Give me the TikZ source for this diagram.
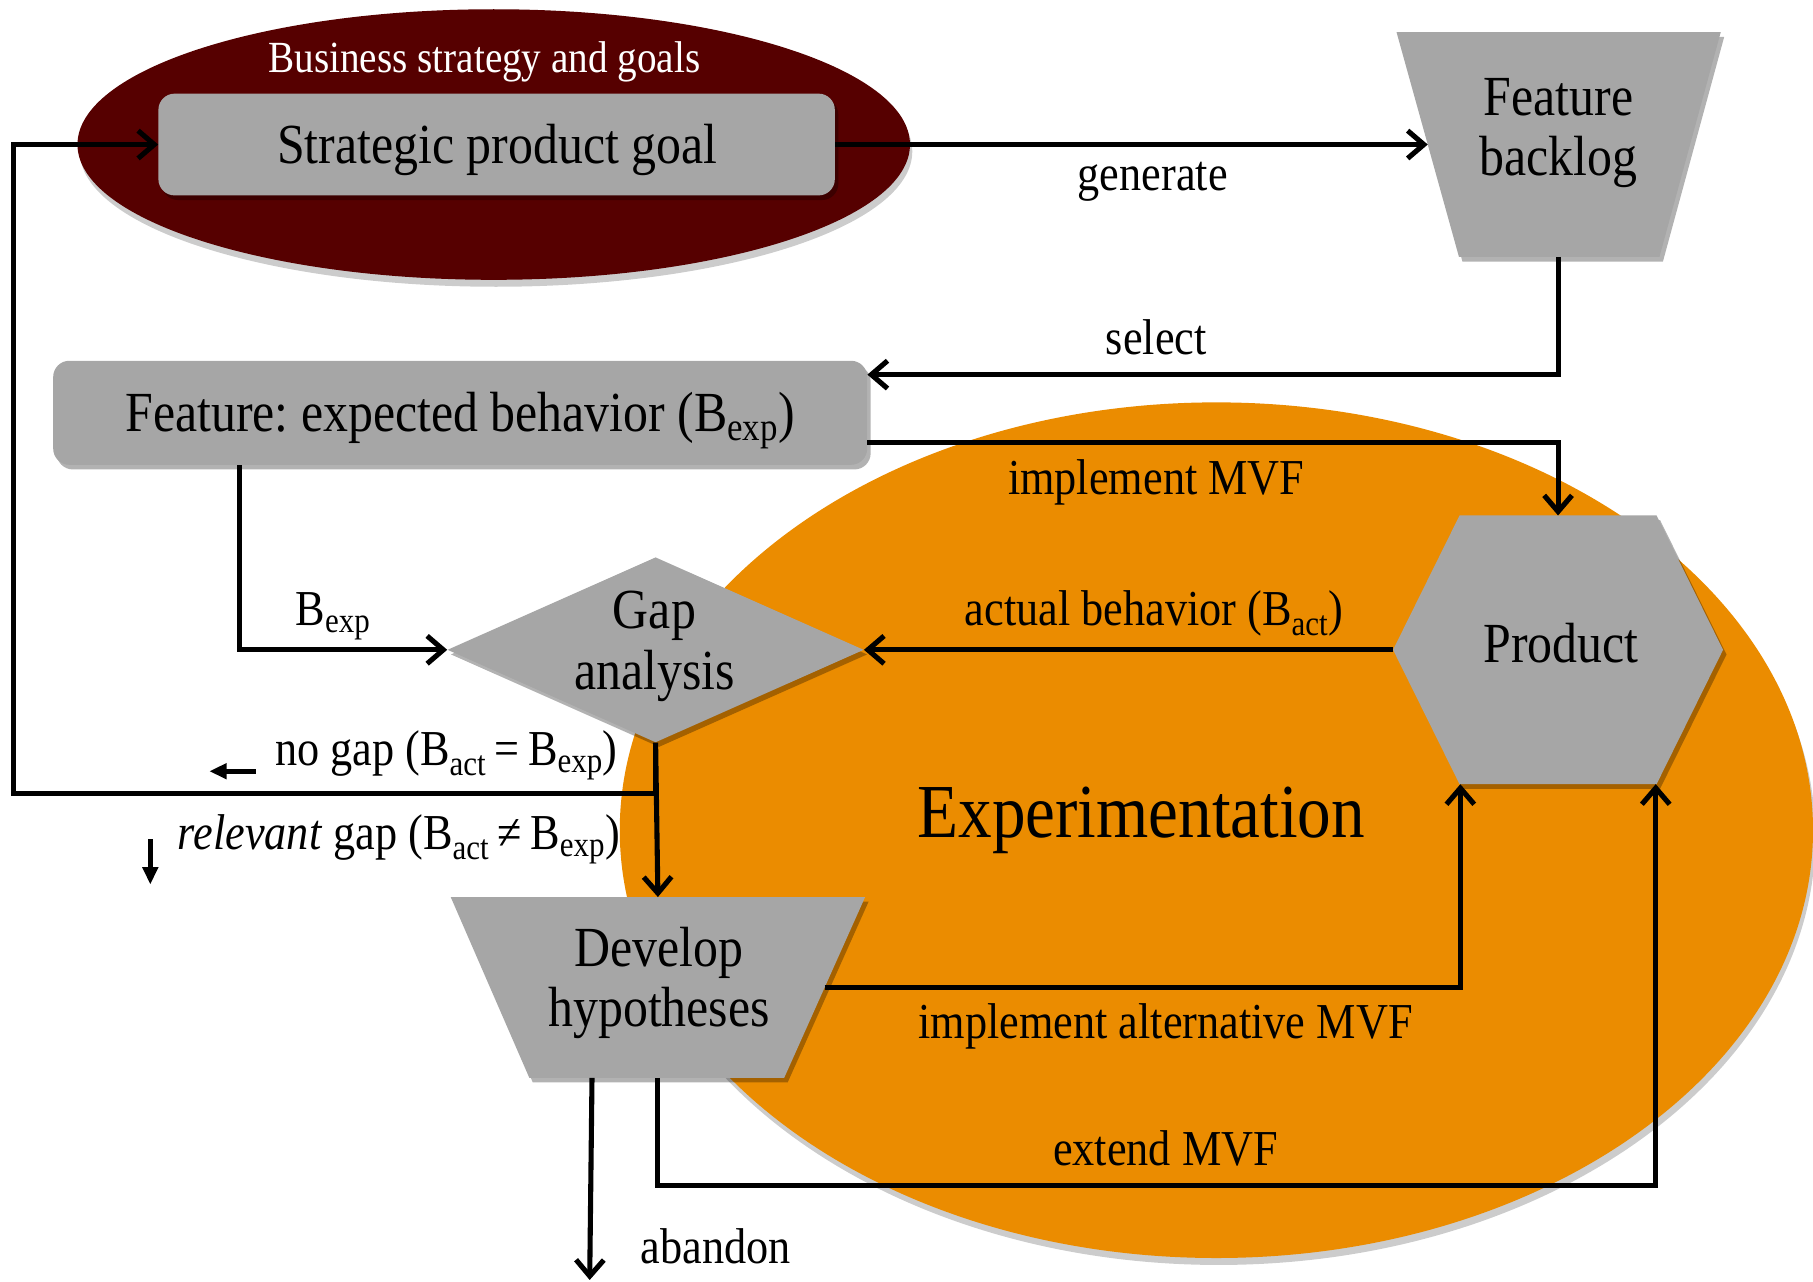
\documentclass[tikz,border=0pt]{standalone}
\usepackage{fontspec}
\setmainfont{Liberation Serif}[FakeStretch=0.88]
\usetikzlibrary{shapes.geometric,arrows.meta,shadows,calc}
\definecolor{bsgred}{RGB}{86,0,0}
\definecolor{boxgray}{RGB}{166,166,166}
\definecolor{orng}{RGB}{235,140,0}
\frenchspacing
\begin{document}
\begin{tikzpicture}[x=1pt,y=-1pt,
  lbl/.style={font=\fontsize{43.5}{48}\selectfont, inner sep=0pt, anchor=base},
  nodetxt/.style={font=\fontsize{49}{52.5}\selectfont, align=center, inner sep=0pt},
  shd/.style={drop shadow={shadow xshift=3pt,shadow yshift=-4pt,opacity=0.3,fill=black}},
  gbox/.style={fill=boxgray, draw=none, rounded corners=14pt, inner sep=0pt, shd},
  gshape/.style={fill=boxgray, draw=none, inner sep=0pt, shd},
  frame/.style={draw=none, inner sep=0pt},
  arr/.style={line width=4.4pt, -{Straight Barb[length=14pt,width=24pt]}},
  smallarr/.style={line width=4pt, -{Triangle[length=15pt,width=13pt]}}
]
\useasboundingbox (0,0) rectangle (1568,1108);

% background ellipses
\node[ellipse, fill=orng, minimum width=1032pt, minimum height=740pt, inner sep=0pt,
  drop shadow={shadow xshift=2pt,shadow yshift=-6pt,opacity=0.2,fill=black}] (expell) at (1052,718) {};
\node[font=\fontsize{66}{70}\selectfont, inner sep=0pt, anchor=base] (explbl) at (987,724) {Experimentation};

\node[ellipse, fill=bsgred, minimum width=720pt, minimum height=234pt, inner sep=0pt,
  drop shadow={shadow xshift=2pt,shadow yshift=-6pt,opacity=0.2,fill=black}] (bsg) at (427,125) {};
\node[font=\fontsize{38.5}{42}\selectfont, text=white, inner sep=0pt, anchor=base] (bsglbl) at (419,63) {Business strategy and goals};

% boxes
\node[gbox, minimum width=585pt, minimum height=88pt] (spg) at (429.5,125) {};
\node[nodetxt, anchor=base] (spglbl) at (430,141) {Strategic product goal};

\node[gbox, minimum width=704pt, minimum height=90pt] (feat) at (398,357) {};
\node[nodetxt, anchor=base] (featlbl) at (398,373) {Feature: expected behavior (B\textsubscript{exp})};

% feature backlog (inverted trapezoid)
\node[frame, minimum width=280pt, minimum height=194pt] (backlog) at (1348,125) {};
\fill[boxgray, shd] (backlog.north west) -- (backlog.north east)
  -- ($(backlog.south east)+(-53,0)$) -- ($(backlog.south west)+(54,0)$) -- cycle;
\node[nodetxt] (backloglbl) at (1348,115) {Feature\\backlog};

% gap analysis
\node[gshape, diamond, minimum width=360pt, minimum height=160pt] (gap) at (567,562) {};
\node[nodetxt] (gaplbl) at (566,559) {Gap\\analysis};

% develop hypotheses (inverted trapezoid)
\node[frame, minimum width=358pt, minimum height=156pt] (dev) at (569,854) {};
\fill[boxgray, shd] (dev.north west) -- (dev.north east)
  -- ($(dev.south east)+(-70,0)$) -- ($(dev.south west)+(68,0)$) -- cycle;
\node[nodetxt] (devlbl) at (570,850) {Develop\\hypotheses};

% product (hexagon)
\node[frame, minimum width=285pt, minimum height=232pt] (prod) at (1347.5,562) {};
\fill[boxgray, shd] (prod.west) -- ($(prod.north west)+(57.5,0)$) -- ($(prod.north east)+(-57.5,0)$)
  -- (prod.east) -- ($(prod.south east)+(-57.5,0)$) -- ($(prod.south west)+(57.5,0)$) -- cycle;
\node[nodetxt, anchor=base] (prodlbl) at (1350,573) {Product};

% connectors
\draw[arr] (spg.east) -- ($(backlog.west)+(27,0)$);
\node[lbl] at (997,165) {generate};

\draw[arr] (backlog.south) |- ($(feat.east)+(0,-33)$);
\node[lbl] at (1000,307) {select};

\draw[arr] ($(feat.east)+(0,26)$) -| (prod.north);
\node[lbl] at (1000,428) {implement MVF};

\draw[arr] ($(feat.south west)+(161,0)$) |- (gap.west);
\node[lbl] at (288,541) {B\textsubscript{exp}};

\draw[arr] (prod.west) -- (gap.east);
\node[lbl] at (998,541) {actual behavior (B\textsubscript{act})};

\coordinate (loopcorner) at (12,686);
\draw[arr] (gap.south) |- (loopcorner) |- (spg.west);
\draw[arr] (gap.south) -- (dev.north);
\node[lbl] at (386,662) {no gap (B\textsubscript{act}\,=\,B\textsubscript{exp})};
\coordinate (ngA) at (221,667);
\coordinate (ngB) at (181,667);
\draw[smallarr] (ngA) -- (ngB);
\node[lbl] at (345,735) {\textit{relevant} gap (B\textsubscript{act}\,≠\,B\textsubscript{exp})};
\coordinate (rgA) at (130,726);
\coordinate (rgB) at (130,765);
\draw[smallarr] (rgA) -- (rgB);

\draw[arr] ($(dev.east)+(-35,0)$) -| ($(prod.south)+(-84.5,0)$);
\node[lbl] at (1008,898) {implement alternative MVF};

\draw[arr] (dev.south) -- ++(0,93) -| ($(prod.south)+(84.5,0)$);
\node[lbl] at (1008,1008) {extend MVF};

\coordinate (abandonend) at (510,1107);
\draw[arr] ($(dev.south)+(-57,0)$) -- (abandonend);
\node[lbl] at (619,1093) {abandon};
\end{tikzpicture}
\end{document}
